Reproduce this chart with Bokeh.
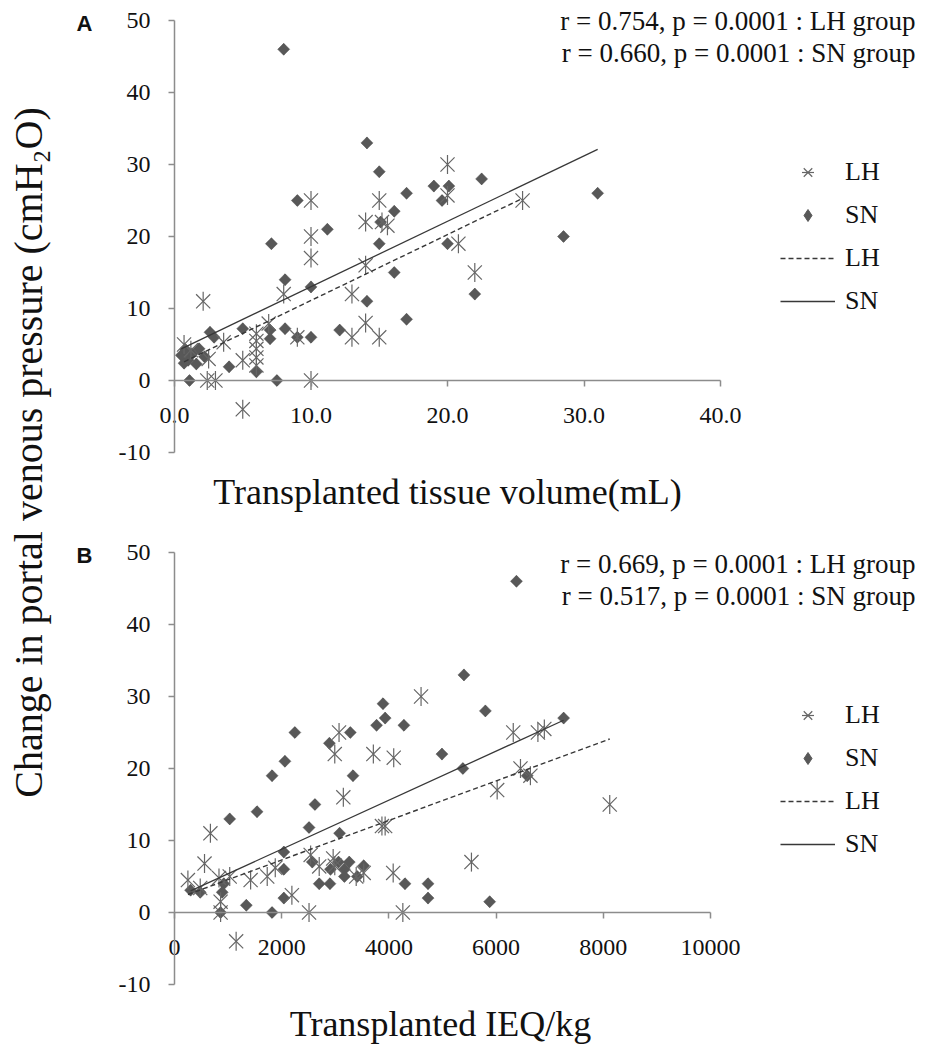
import numpy as np
from bokeh.plotting import figure
from bokeh.models import (Range1d, LinearAxis, FixedTicker, NumeralTickFormatter,
                          Label, Legend, LegendItem)
from bokeh.layouts import row, column
from bokeh.embed import file_html
from bokeh.resources import INLINE

# ---------------- data: panel A (tissue volume, mL) ----------------
a_lh_x = [0.7, 1.2, 2.1, 2.5, 2.4, 3.0, 3.6, 5.0, 5.0, 6.0, 6.0, 6.0, 6.0, 6.0,
          6.9, 8.0, 9.0, 10.0, 10.0, 10.0, 10.0, 13.0, 13.0, 14.0, 14.0, 14.0,
          15.0, 15.0, 15.2, 15.6, 20.0, 20.0, 20.8, 22.0, 25.5]
a_lh_y = [5.0, 4.2, 11.0, 3.0, 0.0, 0.0, 5.3, 2.8, -4.0, 6.5, 5.5, 4.4, 3.2, 2.1,
          7.9, 12.0, 6.0, 0.0, 17.0, 20.0, 25.0, 12.0, 6.0, 22.0, 16.0, 8.0,
          25.0, 6.0, 22.0, 21.5, 30.0, 25.7, 19.0, 15.0, 25.0]
a_sn_x = [0.5, 0.8, 1.0, 1.3, 1.6, 1.8, 2.2, 0.7, 1.1, 2.6, 2.9, 4.0, 5.0, 6.0,
          7.0, 7.0, 7.1, 7.5, 8.0, 8.1, 8.1, 9.0, 9.0, 10.0, 10.0, 11.2, 12.1,
          14.1, 14.1, 15.0, 15.1, 15.0, 16.1, 16.1, 17.0, 17.0, 19.0, 19.6, 20.1,
          20.0, 22.0, 22.5, 28.5, 31.0]
a_sn_y = [3.5, 4.3, 2.8, 3.7, 2.3, 4.4, 3.3, 2.4, 0.0, 6.7, 6.0, 1.9, 7.2, 1.2,
          5.8, 7.0, 19.0, 0.0, 46.0, 14.0, 7.2, 25.0, 6.0, 6.0, 13.0, 21.0, 7.0,
          33.0, 11.0, 29.0, 22.0, 19.0, 23.5, 15.0, 26.0, 8.5, 27.0, 25.0, 27.0,
          19.0, 12.0, 28.0, 20.0, 26.0]
a_lh_fit_x = [0.7, 25.5]
a_lh_fit_y = [2.6, 25.3]
a_sn_fit_x = [0.5, 31.0]
a_sn_fit_y = [4.4, 32.1]
a_x_ticks = [0, 10, 20, 30, 40]
a_stats = ["r = 0.754, p = 0.0001 : LH group", "r = 0.660, p = 0.0001 : SN group"]
a_xtitle = "Transplanted tissue volume(mL)"

# ---------------- data: panel B (IEQ/kg) ----------------
b_lh_x = [250, 480, 560, 670, 830, 860, 860, 1030, 1150, 1420, 1730, 1880, 2190,
          2510, 2540, 2700, 2960, 2990, 2990, 3070, 3150, 3390, 3530, 3710, 3870,
          3930, 4080, 4090, 4260, 4600, 5540, 6020, 6320, 6455, 6640, 6780, 6900,
          8120]
b_lh_y = [4.5, 3.4, 6.8, 11.0, 4.8, 1.5, 0.0, 5.0, -4.0, 4.5, 5.0, 6.2, 2.4,
          0.0, 8.0, 6.4, 7.5, 6.5, 22.0, 25.0, 16.0, 5.0, 5.5, 22.0, 12.0,
          12.0, 5.5, 21.5, 0.0, 30.0, 7.0, 17.0, 25.0, 20.0, 19.0, 25.0, 25.5,
          15.0]
b_sn_x = [300, 480, 860, 890, 920, 1030, 1340, 1540, 1820, 1820, 2040, 2040, 2040,
          2060, 2245, 2510, 2570, 2620, 2700, 2890, 2900, 2910, 3060, 3080, 3170,
          3170, 3260, 3280, 3330, 3410, 3530, 3770, 3890, 3930, 4280, 4300, 4730,
          4730, 4990, 5380, 5400, 5800, 5880, 6380, 6580, 7260]
b_sn_y = [3.1, 2.8, 0.0, 2.8, 4.0, 13.0, 1.0, 14.0, 19.0, 0.0, 8.4, 6.0, 2.0,
          21.0, 25.0, 11.8, 7.0, 15.0, 4.0, 23.5, 4.0, 6.0, 7.0, 11.0, 6.0,
          5.0, 7.0, 25.0, 19.0, 5.0, 6.5, 26.0, 29.0, 27.0, 26.0, 4.0, 4.0,
          2.0, 22.0, 20.0, 33.0, 28.0, 1.5, 46.0, 19.0, 27.0]
b_lh_fit_x = [250, 8120]
b_lh_fit_y = [2.5, 24.1]
b_sn_fit_x = [300, 7260]
b_sn_fit_y = [3.0, 26.7]
b_x_ticks = [0, 2000, 4000, 6000, 8000, 10000]
b_stats = ["r = 0.669, p = 0.0001 : LH group", "r = 0.517, p = 0.0001 : SN group"]
b_xtitle = "Transplanted IEQ/kg"

y_ticks = [-10, 0, 10, 20, 30, 40, 50]
y_title = "Change in portal venous pressure (cmH\u2082O)"

SERIF = "Liberation Serif"
STAR = "#666666"
DIAM = "#585858"
FIT = "#383838"
AXIS = "#8c8c8c"
INK = "#111111"

# ---- page layout (pixels) ----
TITLE_W = 60          # strip holding the shared y-axis title
RIGHT = 917           # right edge of the panels
AX_X = 174            # page x of the y axis (x = 0)
PY = 7.2              # pixels per y unit


def panel(letter, xmax, x_px, top_px, height_px, y0_px, xticks, xfmt,
          lh_x, lh_y, sn_x, sn_y, lhf_x, lhf_y, snf_x, snf_y,
          stats, stats_px, xtitle, xtitle_x):
    sx = x_px / xmax                   # pixels per x unit
    w = RIGHT - TITLE_W

    def dx(px):
        return (px - AX_X) / sx

    def dy(py):
        return (y0_px - py) / PY

    p = figure(frame_width=w, frame_height=height_px,
               x_range=Range1d(dx(TITLE_W), dx(RIGHT)),
               y_range=Range1d(dy(top_px + height_px), dy(top_px)),
               x_axis_type=None, y_axis_type=None, min_border=0,
               output_backend="svg", toolbar_location=None)
    p.outline_line_color = None

    yax = LinearAxis(fixed_location=0, bounds=(-10, 50),
                     ticker=FixedTicker(ticks=y_ticks),
                     formatter=NumeralTickFormatter(format="0"))
    xax = LinearAxis(fixed_location=0, bounds=(0, xmax),
                     ticker=FixedTicker(ticks=xticks),
                     formatter=NumeralTickFormatter(format=xfmt))
    for ax in (yax, xax):
        ax.axis_line_color = AXIS
        ax.axis_line_width = 1.5
        ax.major_tick_line_color = AXIS
        ax.major_tick_line_width = 1.5
        ax.major_tick_in = 0
        ax.major_tick_out = 6
        ax.minor_tick_line_color = None
        ax.major_label_text_font = SERIF
        ax.major_label_text_font_size = "24px"
        ax.major_label_text_color = INK
    yax.major_label_standoff = 18
    xax.major_label_standoff = 21
    p.add_layout(yax, "left")
    p.add_layout(xax, "below")

    # SN: a diamond (used for the legend) hidden under a rotated square
    r_sn_leg = p.scatter(sn_x, sn_y, marker="diamond", size=11,
                         fill_color=DIAM, line_color=DIAM)
    p.scatter(sn_x, sn_y, marker="square", angle=np.pi / 4, size=8.5,
              fill_color=DIAM, line_color=DIAM, line_width=0.5)
    r_lh_x = p.scatter(lh_x, lh_y, marker="x", size=20, line_color=STAR,
                       line_width=1.2)
    r_lh_v = p.scatter(lh_x, lh_y, marker="dash", angle=np.pi / 2, size=19,
                       line_color=STAR, line_width=1.2)
    r_lhf = p.line(lhf_x, lhf_y, line_color=FIT, line_width=1.4, line_dash="5 3")
    r_snf = p.line(snf_x, snf_y, line_color=FIT, line_width=1.3)

    # legend: glyph column starts at page x 780, rows centred 43 px apart
    legend_top = stats_px[0] + 137
    legend_h = 4 * 30 + 3 * 13
    legend = Legend(items=[LegendItem(label="LH", renderers=[r_lh_x, r_lh_v]),
                           LegendItem(label="SN", renderers=[r_sn_leg]),
                           LegendItem(label="LH", renderers=[r_lhf]),
                           LegendItem(label="SN", renderers=[r_snf])],
                    location=(780 - TITLE_W,
                              top_px + height_px - (legend_top + legend_h)))
    legend.padding = 0
    legend.margin = 0
    legend.spacing = 13
    legend.glyph_width = 55
    legend.glyph_height = 30
    legend.label_height = 30
    legend.label_standoff = 10
    legend.label_text_font = SERIF
    legend.label_text_font_size = "26px"
    legend.label_text_color = INK
    legend.border_line_color = None
    legend.background_fill_alpha = 0
    p.add_layout(legend)

    # statistics, right aligned near the page edge
    for s, py in zip(stats, stats_px):
        p.add_layout(Label(x=dx(RIGHT - 2), y=dy(py), text=s,
                           text_align="right", text_baseline="middle",
                           text_font=SERIF, text_font_size="27px",
                           text_color=INK))
    # panel letter
    p.add_layout(Label(x=dx(84), y=dy(y0_px - 50 * PY + 3), text=letter,
                       text_align="center", text_baseline="middle",
                       text_font="Liberation Sans", text_font_style="bold",
                       text_font_size="22px", text_color=INK))
    # x-axis title
    p.add_layout(Label(x=dx(xtitle_x), y=dy(y0_px + 111), text=xtitle,
                       text_align="center", text_baseline="middle",
                       text_font=SERIF, text_font_size="36px", text_color=INK))
    return p


pA = panel("A", 40, 546, 0, 520, 380, a_x_ticks, "0.0",
           a_lh_x, a_lh_y, a_sn_x, a_sn_y,
           a_lh_fit_x, a_lh_fit_y, a_sn_fit_x, a_sn_fit_y,
           a_stats, (20, 52), a_xtitle, 447)
pB = panel("B", 10000, 536, 520, 526, 912, b_x_ticks, "0",
           b_lh_x, b_lh_y, b_sn_x, b_sn_y,
           b_lh_fit_x, b_lh_fit_y, b_sn_fit_x, b_sn_fit_y,
           b_stats, (563, 595), b_xtitle, 440)

TOTAL_H = 520 + 526
pt = figure(frame_width=TITLE_W, frame_height=TOTAL_H, x_range=Range1d(0, TITLE_W),
            y_range=Range1d(0, TOTAL_H), x_axis_type=None, y_axis_type=None,
            min_border=0, output_backend="svg", toolbar_location=None)
pt.outline_line_color = None
pt.add_layout(Label(x=28, y=TOTAL_H - 452, text=y_title, angle=np.pi / 2,
                    text_align="center", text_baseline="middle",
                    text_font=SERIF, text_font_size="40px", text_color=INK))

layout = row(pt, column(pA, pB))
open("out.html", "w").write(file_html(layout, INLINE))
